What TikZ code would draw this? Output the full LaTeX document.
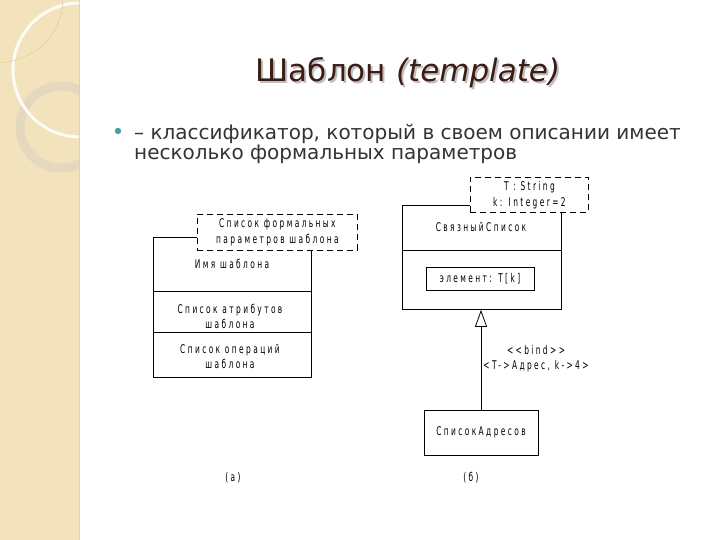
\documentclass[tikz,border=0pt]{standalone}
\usepackage{fontspec}
\setmainfont{DejaVu Sans}
\newfontfamily\umlfont[FakeStretch=0.62,LetterSpace=20]{DejaVu Sans}
\usetikzlibrary{arrows.meta}
\definecolor{strip}{HTML}{F2E3BD}
\definecolor{stripline}{HTML}{E2D2AA}
\definecolor{ringc}{HTML}{E4D8BE}
\definecolor{titlec}{HTML}{3C1C14}
\definecolor{bulletc}{HTML}{4A9AB0}
\tikzset{
  box/.style={draw, line width=0.8pt, inner sep=0pt, fill=white},
  dbox/.style={draw, line width=0.8pt, dash pattern=on 6pt off 4pt, inner sep=0pt, fill=white, align=center, font=\umlfont\fontsize{12}{16}\selectfont},
  lbl/.style={inner sep=0pt, align=center, font=\umlfont\fontsize{12}{15}\selectfont},
  body/.style={anchor=base west, text=black!80, font=\fontsize{20}{22}\selectfont, inner sep=0pt},
  ttl/.style={font=\fontsize{31}{34}\selectfont, anchor=base},
}
\begin{document}
\begin{tikzpicture}[x=1pt,y=-1pt]
\useasboundingbox (0,0) rectangle (720,540);
% background strip
\fill[strip] (0,0) rectangle (79,540);
\draw[stripline, line width=1pt] (79,0) -- (79,540);
\begin{scope}
\clip (0,0) rectangle (79,540);
\draw[ringc, line width=9pt] (61,127) circle (41);
\draw[white!85!strip, line width=3pt] (80,70) circle (67);
\draw[strip!70!brown, line width=0.4pt] (1,63) .. controls (40,58) and (62,32) .. (63,0);
\end{scope}
% title
\node[ttl, text=gray!50] at (410,84) {Шаблон \textit{(template)}};
\node (title) [ttl, text=titlec] at (408,82) {Шаблон \textit{(template)}};
% bullet
\fill[bulletc] (118,131) circle (3.2);
\node (txt1) [body] at (134,140) {– классификатор, который в своем описании имеет};
\node (txt2) [body] at (134,160) {несколько формальных параметров};
% (a)
\node (a1) [box, minimum width=158pt, minimum height=54pt, anchor=north west] at (153,237) {};
\node (a2) [box, minimum width=158pt, minimum height=41pt, anchor=north west] at (153,291) {};
\node (a3) [box, minimum width=158pt, minimum height=45pt, anchor=north west] at (153,332) {};
\node (ad) [dbox, minimum width=160pt, minimum height=36pt, anchor=north west] at (197,214) {Список формальных\\параметров шаблона};
\node (an) [lbl] at (232,264) {Имя шаблона};
\node (aa) [lbl] at (230,316) {Список атрибутов\\шаблона};
\node (ao) [lbl] at (230,357) {Список операций\\шаблона};
\node (la) [lbl] at (233,478) {(а)};
% (б)
\node (b1) [box, minimum width=159pt, minimum height=45pt, anchor=north west] at (402,205) {};
\node (b2) [box, minimum width=159pt, minimum height=59pt, anchor=north west] at (402,250) {};
\node (bd) [dbox, minimum width=118pt, minimum height=35pt, anchor=north west] at (470,177) {T : String\\k: Integer=2};
\node (bn) [lbl] at (481,227) {СвязныйСписок};
\node (be) [box, minimum width=108pt, minimum height=23pt, lbl] at (480,278.5) {элемент: T[k]};
\node (bc) [box, minimum width=114pt, minimum height=45pt, lbl] at (481,432.5) {СписокАдресов};
\draw[line width=0.8pt, -{Triangle[open, length=17pt, width=12pt]}] (bc.north) -- (bc.north |- b2.south);
\node (bl) [lbl] at (536,359) {<<bind>>\\<T->Адрес, k->4>};
\node (lb) [lbl] at (471,478) {(б)};
\end{tikzpicture}
\end{document}
